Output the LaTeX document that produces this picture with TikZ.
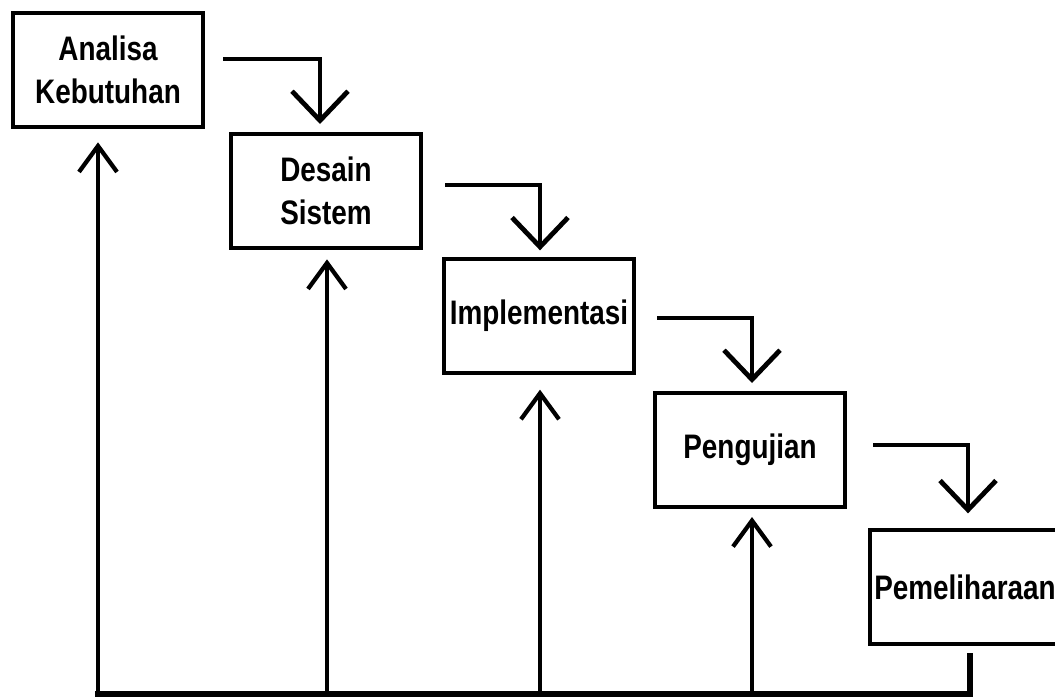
\documentclass[tikz,border=0pt]{standalone}
\usepackage{fontspec}
\setmainfont{Liberation Sans}[FakeStretch=0.82]
\usetikzlibrary{positioning, arrows.meta}

\begin{document}
\begin{tikzpicture}[x=0.75pt, y=-0.75pt,
    font=\fontsize{25.5}{32}\selectfont\bfseries,
    tahap/.style={draw, line width=3pt, minimum width=142pt, minimum height=85.5pt,
      align=center, inner sep=0pt},
    turun/.style={line width=3.6pt, -{Straight Barb[length=22pt,width=42pt]}},
    balik/.style={line width=3.2pt, -{Straight Barb[length=19.5pt,width=28.5pt]}},
    garis/.style={line width=3.8pt, line cap=rect}]
    \useasboundingbox (0,0) rectangle (1055,699);
    % tahapan waterfall
    \node[tahap] (analisa) at (108,70) {Analisa\\Kebutuhan};
    \node[tahap] (desain) at (326,191) {Desain\\Sistem};
    \node[tahap] (impl) at (539,316) {Implementasi};
    \node[tahap] (uji) at (750,450) {Pengujian};
    \node[tahap] (pelihara) at (965,587) {Pemeliharaan};
    % panah turun antar tahap
    \coordinate (k1) at (223,59);
    \coordinate (k2) at (445,185);
    \coordinate (k3) at (657,318);
    \coordinate (k4) at (873,445);
    \draw[turun] (k1) -| ([xshift=-4.5pt,yshift=6pt]desain.north);
    \draw[turun] (k2) -| ([xshift=0.75pt,yshift=5pt]impl.north);
    \draw[turun] (k3) -| ([xshift=1.5pt,yshift=6pt]uji.north);
    \draw[turun] (k4) -| ([xshift=2.25pt,yshift=11pt]pelihara.south |- pelihara.north);
    % garis umpan balik
    \coordinate (dasar) at (0,694);
    \coordinate (u1) at ([xshift=-7.5pt,yshift=-10pt]analisa.south);
    \coordinate (u2) at ([xshift=0.75pt,yshift=-7pt]desain.south);
    \coordinate (u3) at ([xshift=0.75pt,yshift=-11pt]impl.south);
    \coordinate (u4) at ([xshift=1.5pt,yshift=-6pt]uji.south);
    \draw[garis] ([xshift=3.75pt,yshift=-7pt]pelihara.south) |- (u1 |- dasar);
    \draw[balik] (u1 |- dasar) -- (u1);
    \draw[balik] (u2 |- dasar) -- (u2);
    \draw[balik] (u3 |- dasar) -- (u3);
    \draw[balik] (u4 |- dasar) -- (u4);
\end{tikzpicture}
\end{document}
